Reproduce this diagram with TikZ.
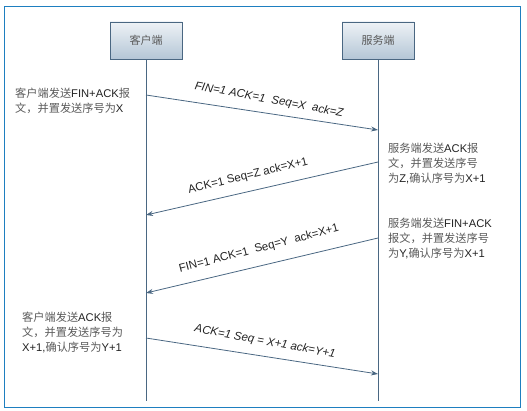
\documentclass[tikz,border=0pt]{standalone}
\usepackage{fontspec}
\setmainfont{Liberation Sans}
\newfontfamily\cjk{Noto Sans CJK SC}
\usetikzlibrary{arrows.meta}
\definecolor{frameblue}{HTML}{1E7FC0}
\definecolor{lineslate}{HTML}{4A6782}
\definecolor{boxtop}{HTML}{EEF2F6}
\definecolor{boxbot}{HTML}{B4C6D6}
\definecolor{cjkgray}{HTML}{5A5A5A}
\definecolor{txt}{HTML}{222222}
\newcommand{\zh}[1]{{\cjk\color{cjkgray}#1}}
\tikzset{
  actor/.style={draw=lineslate, line width=0.7pt, top color=boxtop, bottom color=boxbot,
    minimum width=72pt, minimum height=37pt, inner sep=0pt, font=\cjk\fontsize{11}{12}\selectfont, text=cjkgray},
  life/.style={draw=lineslate, line width=0.8pt},
  msg/.style={draw=lineslate, line width=0.8pt, -{Stealth[length=7pt,width=5pt]}},
  lbl/.style={font=\fontsize{11.5}{12}\selectfont, text=txt, inner sep=0pt},
  note/.style={font=\fontsize{11.2}{15}\selectfont, text=txt, align=left, anchor=north west, inner sep=0pt},
}
\begin{document}
\begin{tikzpicture}[x=1pt,y=-1pt]
\useasboundingbox (0,0) rectangle (527,411);
\draw[frameblue, line width=1pt] (4.5,6.5) rectangle (520.5,407);
\node[actor] (c) at (146,40.5) {客户端};
\node[actor] (s) at (378,40.5) {服务端};
\coordinate (cb) at (146,401);
\coordinate (sb) at (378,401);
\draw[life] (c.south) -- (cb);
\draw[life] (s.south) -- (sb);
\coordinate (c1) at (146,95);  \coordinate (s1) at (378,130);
\coordinate (s2) at (378,162); \coordinate (c2) at (146,215);
\coordinate (s3) at (378,238); \coordinate (c3) at (146,293);
\coordinate (c4) at (146,338); \coordinate (s4) at (378,374);
\draw[msg] (c1) -- (s1);
\draw[msg] (s2) -- (c2);
\draw[msg] (s3) -- (c3);
\draw[msg] (c4) -- (s4);
\node[lbl, rotate=-10.5] (l1) at (269,100) {\itshape FIN=1 ACK=1\ \ Seq=X\ \ ack=Z};
\node[lbl, rotate=13.5] (l2) at (248,176) {ACK=1 Seq=Z ack=X+1};
\node[lbl, rotate=14.5] (l3) at (259,249) {FIN=1 ACK=1\ \ Seq=Y\ \ ack=X+1};
\node[lbl, rotate=-10.5] (l4) at (265,342) {\itshape ACK=1 Seq = X+1 ack=Y+1};
\node[note] (n1) at (15,88) {\zh{客户端发送}FIN+ACK\zh{报}\\\zh{文，并置发送序号为}X};
\node[note] (n2) at (388,143) {\zh{服务端发送}ACK\zh{报}\\\zh{文，并置发送序号}\\\zh{为}Z,\zh{确认序号为}X+1};
\node[note] (n3) at (388,218) {\zh{服务端发送}FIN+ACK\\\zh{报文，并置发送序号}\\\zh{为}Y,\zh{确认序号为}X+1};
\node[note] (n4) at (22,312) {\zh{客户端发送}ACK\zh{报}\\\zh{文，并置发送序号为}\\X+1,\zh{确认序号为}Y+1};
\end{tikzpicture}
\end{document}
